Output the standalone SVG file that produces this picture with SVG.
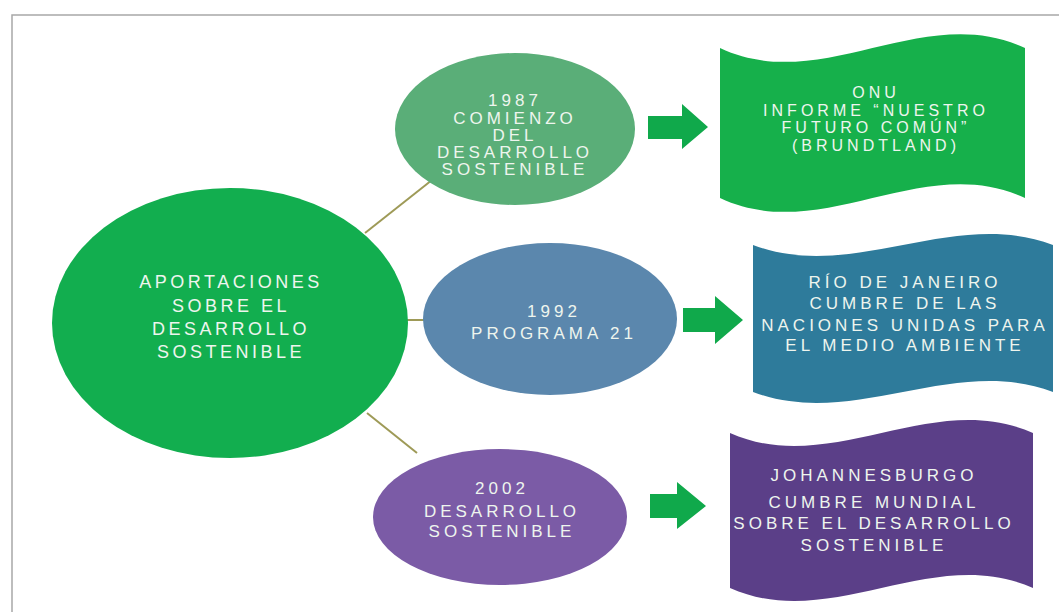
<svg xmlns="http://www.w3.org/2000/svg" width="1059" height="612" viewBox="0 0 1059 612">
  <defs>
    <style>
      .t { font-family: "Liberation Sans", Arial, sans-serif; font-size: 17px; fill: #eef5ee; text-anchor: middle; letter-spacing: 4px; }
      .tm { font-size: 18px; letter-spacing: 3.5px; }
      .tw { font-size: 16px; letter-spacing: 4px; }
      .conn { stroke: #9e9a57; stroke-width: 2; fill: none; }
      .arrow { fill: #10a94b; }
      .frame { stroke: #a8a8a8; stroke-width: 1.5; fill: none; }
    </style>
  </defs>
  <rect width="1059" height="612" fill="#ffffff"/>
  <path class="frame" d="M12,612 L12,15 L1059,15"/>

  <g id="connectors">
    <line class="conn" x1="365" y1="233" x2="432" y2="180"/>
    <line class="conn" x1="405" y1="320" x2="425" y2="320"/>
    <line class="conn" x1="367" y1="413" x2="417" y2="453"/>
  </g>

  <g id="main">
    <ellipse cx="230" cy="323" rx="178" ry="135" fill="#12ae4f"/>
    <text class="t tm" x="231" y="288">APORTACIONES</text>
    <text class="t tm" x="231" y="312">SOBRE EL</text>
    <text class="t tm" x="231" y="335">DESARROLLO</text>
    <text class="t tm" x="231" y="358">SOSTENIBLE</text>
  </g>

  <g id="n1987">
    <ellipse cx="515" cy="129" rx="120" ry="76" fill="#5aae78"/>
    <text class="t" x="515" y="106">1987</text>
    <text class="t" x="515" y="124">COMIENZO</text>
    <text class="t" x="515" y="141">DEL</text>
    <text class="t" x="515" y="158">DESARROLLO</text>
    <text class="t" x="515" y="175">SOSTENIBLE</text>
  </g>

  <g id="n1992">
    <ellipse cx="550" cy="319" rx="127" ry="76" fill="#5b87ad"/>
    <text class="t" x="554" y="317">1992</text>
    <text class="t" x="554" y="339">PROGRAMA 21</text>
  </g>

  <g id="n2002">
    <ellipse cx="500" cy="517" rx="127" ry="68" fill="#7b5ba6"/>
    <text class="t" x="502" y="494">2002</text>
    <text class="t" x="502" y="517">DESARROLLO</text>
    <text class="t" x="502" y="537">SOSTENIBLE</text>
  </g>

  <g id="arrows">
    <path class="arrow" d="M648,116 L682,116 L682,104 L708,127 L682,149 L682,139 L648,139 Z"/>
    <path class="arrow" d="M683,308 L715,308 L715,296 L743,320 L715,344 L715,332 L683,332 Z"/>
    <path class="arrow" d="M650,494 L677,494 L677,482 L706,506 L677,529 L677,518 L650,518 Z"/>
  </g>

  <g id="onu">
    <path d="M720,48 C822,96 923,0 1025,48 L1025,198 C923,150 822,246 720,198 Z" fill="#16b04b"/>
    <text class="t tw" x="876" y="98">ONU</text>
    <text class="t tw" x="876" y="116">INFORME “NUESTRO</text>
    <text class="t tw" x="876" y="133">FUTURO COMÚN”</text>
    <text class="t tw" x="876" y="151">(BRUNDTLAND)</text>
  </g>

  <g id="rio">
    <path d="M753,245 C853,283 953,207 1053,245 L1053,392 C953,354 853,430 753,392 Z" fill="#2e7b9b"/>
    <text class="t" x="905" y="288">RÍO DE JANEIRO</text>
    <text class="t" x="905" y="309">CUMBRE DE LAS</text>
    <text class="t" x="905" y="331">NACIONES UNIDAS PARA</text>
    <text class="t" x="905" y="351">EL MEDIO AMBIENTE</text>
  </g>

  <g id="johannesburgo">
    <path d="M730,433 C831,478 932,388 1033,433 L1033,588 C932,543 831,633 730,588 Z" fill="#5b3f88"/>
    <text class="t" x="874" y="481">JOHANNESBURGO</text>
    <text class="t" x="874" y="508">CUMBRE MUNDIAL</text>
    <text class="t" x="874" y="529">SOBRE EL DESARROLLO</text>
    <text class="t" x="874" y="551">SOSTENIBLE</text>
  </g>
</svg>
